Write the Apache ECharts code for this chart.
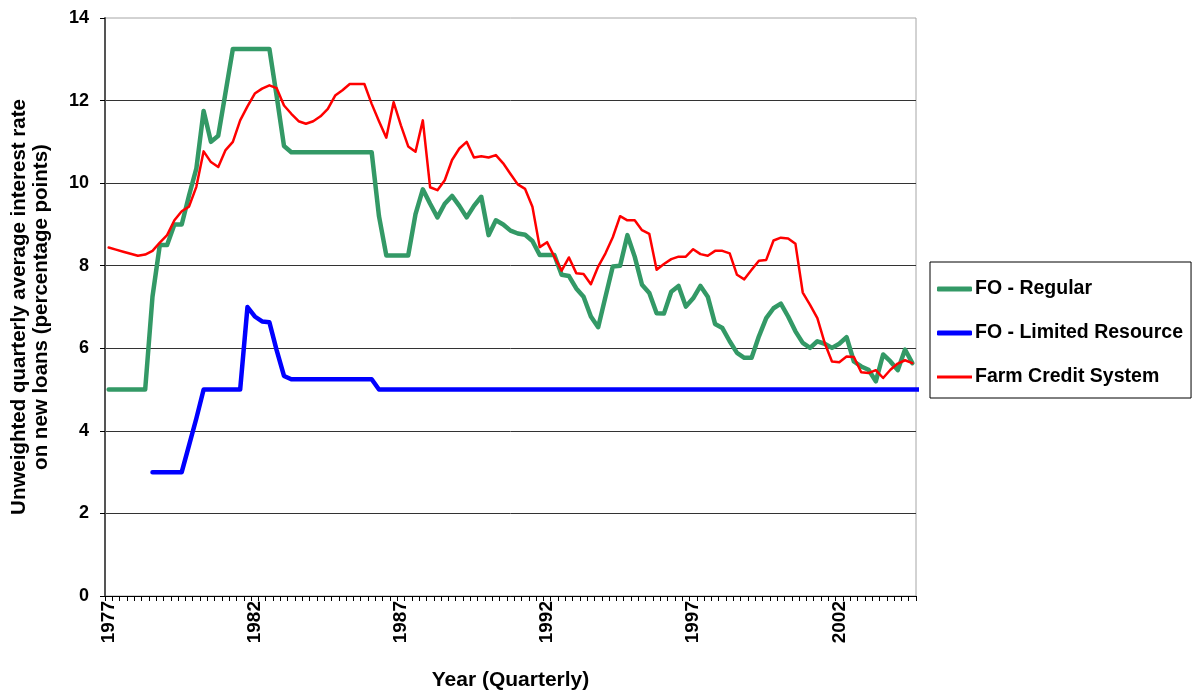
<!DOCTYPE html>
<html>
<head>
<meta charset="utf-8">
<script src="https://cdn.jsdelivr.net/npm/echarts@6/dist/echarts.min.js"></script>
<style>
  html, body { margin: 0; padding: 0; background: #ffffff; }
  #chart { width: 1197px; height: 696px; }
</style>
</head>
<body>
<div id="chart"></div>
<script>
// Quarterly periods, 1977 Q1 through 2004 Q3
const firstYear = 1977;
const quarterCount = 111;
const categories = [];
for (let i = 0; i < quarterCount; i++) {
  categories.push((firstYear + Math.floor(i / 4)) + ' Q' + (i % 4 + 1));
}

// Unweighted quarterly average interest rate on new loans (percentage points)
const foRegular = [
  5, 5, 5, 5, 5, 5,
  7.25, 8.5, 8.5, 9.0, 9.0,
  9.7, 10.35, 11.75, 11.0, 11.15, 12.2,
  13.25, 13.25, 13.25, 13.25, 13.25, 13.25,
  12.1, 10.9,
  10.75, 10.75, 10.75, 10.75, 10.75, 10.75, 10.75, 10.75, 10.75, 10.75, 10.75, 10.75,
  9.2,
  8.25, 8.25, 8.25, 8.25,
  9.25, 9.85, 9.5, 9.17, 9.5, 9.69, 9.45, 9.17, 9.45, 9.67, 8.74,
  9.1, 9.0, 8.85, 8.78, 8.75, 8.6, 8.26, 8.26, 8.26,
  7.78, 7.75, 7.45, 7.25, 6.77, 6.51, 7.25, 7.98, 8.0,
  8.74, 8.22, 7.54, 7.34, 6.85, 6.84, 7.37, 7.51, 7.01, 7.21,
  7.51, 7.25, 6.59, 6.49, 6.17, 5.89, 5.77, 5.77, 6.29, 6.73,
  6.97, 7.08, 6.77, 6.41, 6.13, 6.01, 6.17, 6.11, 6.01, 6.11,
  6.27, 5.68, 5.56, 5.48, 5.2, 5.85, 5.68, 5.47, 5.97, 5.64
];

const foLimited = [
  null, null, null, null, null, null,
  3, 3, 3, 3, 3,
  3.65, 4.3, 5.0,
  5, 5, 5, 5, 5,
  7.0, 6.77, 6.65, 6.63, 5.95, 5.33,
  5.25, 5.25, 5.25, 5.25, 5.25, 5.25, 5.25, 5.25, 5.25, 5.25, 5.25, 5.25,
  5, 5, 5, 5, 5, 5, 5, 5, 5, 5, 5, 5, 5, 5, 5, 5, 5, 5, 5, 5, 5, 5, 5, 5, 5, 5, 5,
  5, 5, 5, 5, 5, 5, 5, 5, 5, 5, 5, 5, 5, 5, 5, 5, 5, 5, 5, 5, 5, 5, 5, 5, 5, 5, 5,
  5, 5, 5, 5, 5, 5, 5, 5, 5, 5, 5, 5, 5, 5, 5, 5, 5, 5, 5, 5, 5, 5, 5, 5, 5, 5, 5, 5, 5, 5
];

const farmCredit = [
  8.44, 8.39, 8.34, 8.29, 8.24, 8.27, 8.36, 8.56, 8.74, 9.1, 9.32,
  9.43, 9.91, 10.77, 10.51, 10.39, 10.8, 11.0, 11.52, 11.86, 12.17,
  12.29, 12.37, 12.3, 11.88, 11.68, 11.5, 11.44, 11.5, 11.62, 11.8,
  12.12, 12.25, 12.4, 12.4, 12.4, 11.92, 11.5, 11.1, 11.96, 11.4,
  10.89, 10.76, 11.52, 9.9, 9.83, 10.07, 10.56, 10.84, 11.0, 10.62,
  10.65, 10.62, 10.68, 10.48, 10.22, 9.97, 9.86, 9.43, 8.45, 8.57,
  8.22, 7.88, 8.2, 7.82, 7.8, 7.55, 7.98, 8.3, 8.69, 9.2,
  9.1, 9.1, 8.86, 8.77, 7.9, 8.04, 8.16, 8.22, 8.22, 8.4,
  8.28, 8.24, 8.36, 8.36, 8.3, 7.78, 7.67, 7.9, 8.12, 8.14,
  8.61, 8.68, 8.66, 8.53, 7.35, 7.05, 6.73, 6.13, 5.68, 5.66,
  5.8, 5.79, 5.42, 5.4, 5.47, 5.28, 5.48, 5.63, 5.71, 5.64
];

const seriesNames = ['FO - Regular', 'FO - Limited Resource', 'Farm Credit System'];
const yTicks = { min: 0, max: 14, step: 2 };

const FONT = '"Liberation Sans", Arial, sans-serif';

// Legend keys drawn as short strokes: thick for the FO series, thinner for Farm Credit
const thickKey = 'roundRect';
const thinKey = 'path://M0,0.6h35v2.8h-35zM0,0h0.1v0.1h-0.1zM0,3.9h0.1v0.1h-0.1z';

const chart = echarts.init(document.getElementById('chart'), null, { renderer: 'canvas' });

chart.setOption({
  animation: false,
  backgroundColor: '#ffffff',
  textStyle: { fontFamily: FONT, color: '#000000' },
  grid: {
    left: 105, right: 281, top: 18, bottom: 99,
    show: true, borderColor: '#a6a6a6', borderWidth: 1, backgroundColor: '#ffffff'
  },
  legend: {
    orient: 'vertical',
    left: 930, top: 262,
    padding: [17, 8, 11, 7],
    itemGap: 24,
    itemWidth: 35, itemHeight: 5,
    borderColor: '#000000', borderWidth: 1,
    textStyle: { fontFamily: FONT, fontSize: 19.5, fontWeight: 'bold', color: '#000000', padding: [0, 0, 0, -2] },
    data: [
      { name: seriesNames[0], icon: thickKey },
      { name: seriesNames[1], icon: thickKey },
      { name: seriesNames[2], icon: thinKey }
    ]
  },
  xAxis: {
    type: 'category',
    data: categories,
    boundaryGap: true,
    name: 'Year (Quarterly)',
    nameLocation: 'middle',
    nameGap: 74,
    nameTextStyle: { fontFamily: FONT, fontSize: 21, fontWeight: 'bold', color: '#000000', verticalAlign: 'top' },
    axisLine: { show: true, lineStyle: { color: '#000000', width: 1 } },
    axisTick: { show: true, interval: 0, length: 5, lineStyle: { color: '#000000' } },
    axisLabel: {
      interval: 19, rotate: 90, margin: 5,
      fontFamily: FONT, fontSize: 19, fontWeight: 'bold', color: '#000000',
      formatter: v => v.slice(0, 4)
    },
    splitLine: { show: false }
  },
  yAxis: {
    type: 'value',
    min: yTicks.min, max: yTicks.max, interval: yTicks.step,
    name: 'Unweighted quarterly average interest rate\non new loans (percentage points)',
    nameLocation: 'middle',
    nameRotate: 90,
    nameGap: 53,
    nameTextStyle: { fontFamily: FONT, fontSize: 20.5, fontWeight: 'bold', color: '#000000', lineHeight: 22 },
    axisLine: { show: true, lineStyle: { color: '#555555', width: 2 } },
    axisTick: { show: true, length: 5, lineStyle: { color: '#000000' } },
    axisLabel: { fontFamily: FONT, fontSize: 18, fontWeight: 'bold', color: '#000000', margin: 16 },
    splitLine: { show: true, showMaxLine: false, lineStyle: { color: '#333333', width: 1 } }
  },
  series: [
    {
      name: seriesNames[0], type: 'line', data: foRegular,
      symbol: 'none', showSymbol: false,
      lineStyle: { color: '#339966', width: 4.5, join: 'round', cap: 'round' },
      itemStyle: { color: '#339966' }, z: 3
    },
    {
      name: seriesNames[1], type: 'line', data: foLimited,
      symbol: 'none', showSymbol: false, connectNulls: false,
      lineStyle: { color: '#0000ff', width: 4.5, join: 'round', cap: 'round' },
      itemStyle: { color: '#0000ff' }, z: 4
    },
    {
      name: seriesNames[2], type: 'line', data: farmCredit,
      symbol: 'none', showSymbol: false,
      lineStyle: { color: '#ff0000', width: 2.5, join: 'round', cap: 'round' },
      itemStyle: { color: '#ff0000' }, z: 5
    }
  ]
});
</script>
</body>
</html>
